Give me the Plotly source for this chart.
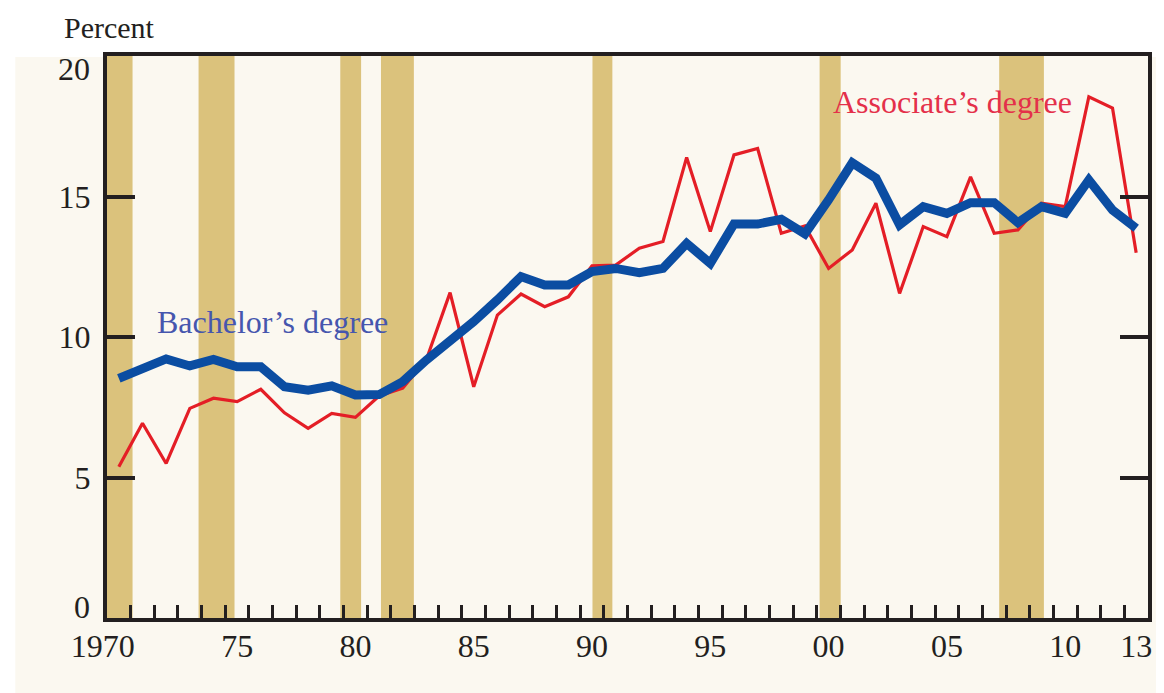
import numpy as np
import plotly.graph_objects as go

# ---------------- data ----------------
years = list(range(1970, 2014))
bachelors = [8.53, 8.85, 9.22, 8.97, 9.20, 8.94, 8.94, 8.23, 8.11, 8.26, 7.94,
             7.95, 8.41, 9.18, 9.84, 10.55, 11.32, 12.15, 11.85, 11.85, 12.33, 12.44,
             12.29, 12.44, 13.33, 12.62, 14.02, 14.02, 14.19, 13.67, 14.88, 16.20, 15.65,
             13.99, 14.64, 14.40, 14.78, 14.78, 14.07, 14.64, 14.40, 15.59, 14.52, 13.87]
associates = [5.38, 6.93, 5.50, 7.46, 7.82, 7.70, 8.14, 7.30, 6.75, 7.28, 7.14,
              7.90, 8.18, 9.20, 11.58, 8.23, 10.78, 11.53, 11.08, 11.43, 12.53, 12.56,
              13.16, 13.40, 16.39, 13.75, 16.48, 16.71, 13.69, 13.95, 12.44, 13.10, 14.76,
              11.55, 13.93, 13.57, 15.70, 13.69, 13.81, 14.76, 14.64, 18.55, 18.15, 13.00]

recession_start = [1969.5, 1973.37, 1979.36, 1981.08, 1990.02, 1999.62, 2007.21]
recession_end = [1970.58, 1974.89, 1980.24, 1982.47, 1990.86, 2000.51, 2009.10]

x_label_years = [1970, 1975, 1980, 1985, 1990, 1995, 2000, 2005, 2010, 2013]
x_label_text = ["1970\u2007\u2007", "75", "80", "85", "90", "95", "00", "05", "10", "13"]
y_tick_vals = [0, 5, 10, 15, 20]
y_tick_text = ["0", "5", "10", "15", "20"]

# ---------------- style ----------------
FONT = "Liberation Serif"
DARK = "#231F20"
CREAM = "#FBF8F0"
TAN = "#DBC27C"
BLUE = "#0B4DA2"
RED = "#E41E26"

fig = go.Figure()

fig.add_trace(go.Scatter(x=years, y=associates, mode="lines",
                         line=dict(color=RED, width=3.2), name="Associate's degree",
                         showlegend=False, hoverinfo="x+y"))
fig.add_trace(go.Scatter(x=years, y=bachelors, mode="lines",
                         line=dict(color=BLUE, width=9), name="Bachelor's degree",
                         showlegend=False, hoverinfo="x+y"))

shapes = [dict(type="rect", xref="paper", yref="paper", x0=-0.0881, x1=1.02,
               y0=-0.14, y1=0.998, fillcolor=CREAM, line=dict(width=0), layer="below")]
for s, e in zip(recession_start, recession_end):
    shapes.append(dict(type="rect", xref="x", yref="y", x0=s, x1=e, y0=0, y1=20,
                       fillcolor=TAN, line=dict(width=0), layer="below"))

half_years = list(np.arange(years[0] + 0.5, years[-1], 1.0))

# the end labels (0 and 20) sit inset from their ticks, as in the original
y_lo, y_hi = y_tick_vals[0], y_tick_vals[-1]
y_axis_text = ["" if v in (y_lo, y_hi) else t for v, t in zip(y_tick_vals, y_tick_text)]
end_label_annots = []
for v, t in zip(y_tick_vals, y_tick_text):
    if v in (y_lo, y_hi):
        end_label_annots.append(dict(
            text=t, xref="paper", yref="y", x=-0.0144, y=v,
            xanchor="right", yanchor="middle", showarrow=False,
            yshift=(11 if v == y_lo else -13),
            font=dict(family=FONT, size=32, color=DARK)))

# the page body has an 8px margin, so the figure is sized and padded to compensate
fig.update_layout(
    width=1156, height=685, autosize=False,
    margin=dict(l=99, r=13, t=48, b=75),
    paper_bgcolor="white", plot_bgcolor=CREAM,
    font=dict(family=FONT, size=32, color=DARK),
    shapes=shapes,
    xaxis=dict(range=[1969.5, 2013.5], tickmode="array", tickvals=x_label_years,
               ticktext=x_label_text, ticks="", showgrid=False, zeroline=False,
               showline=True, mirror=True, linewidth=4, linecolor=DARK,
               tickfont=dict(family=FONT, size=32, color=DARK),
               ticklabelstandoff=-3,
               minor=dict(tickmode="array", tickvals=half_years, ticks="inside",
                          ticklen=13, tickwidth=3, tickcolor=DARK, showgrid=False)),
    yaxis=dict(range=[0, 20], tickmode="array", tickvals=y_tick_vals, ticktext=y_axis_text,
               ticks="inside", ticklen=28, tickwidth=4, tickcolor=DARK,
               showgrid=False, zeroline=False, showline=True, mirror="ticks",
               linewidth=4, linecolor=DARK, ticklabelstandoff=6,
               tickfont=dict(family=FONT, size=32, color=DARK)),
    annotations=[
        dict(text="Percent", xref="paper", yref="paper", x=-0.0431, y=1.0516,
             xanchor="left", yanchor="middle", showarrow=False,
             font=dict(family=FONT, size=30, color=DARK)),
        dict(text="Bachelor\u2019s degree", xref="paper", yref="paper", x=0.046, y=0.5267,
             xanchor="left", yanchor="middle", showarrow=False,
             font=dict(family=FONT, size=32, color="#4656AE")),
        dict(text="Associate\u2019s degree", xref="paper", yref="paper", x=0.6954, y=0.918,
             xanchor="left", yanchor="middle", showarrow=False,
             font=dict(family=FONT, size=32, color="#E4304A")),
    ] + end_label_annots,
)

fig.write_html("out.html")
